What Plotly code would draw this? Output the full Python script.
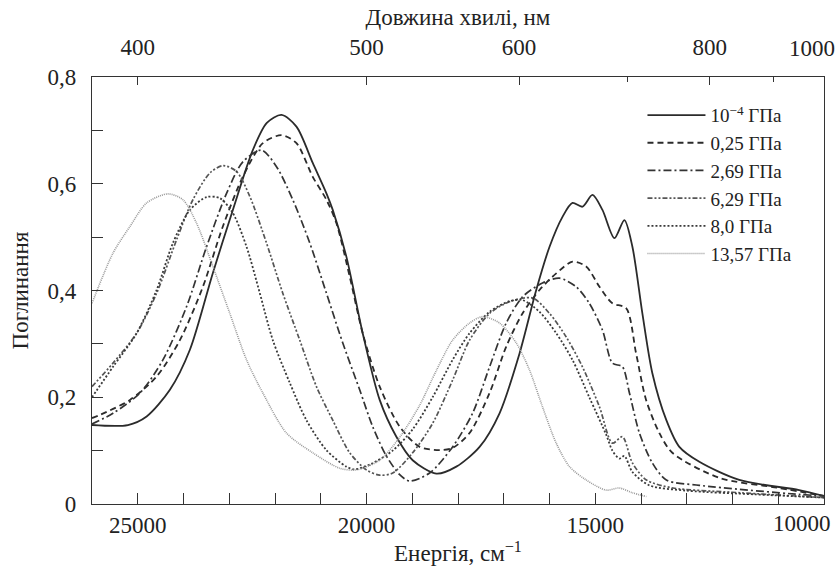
import plotly.graph_objects as go

# ---- data (wavenumber, cm^-1 ; absorbance) ----
names = ["10<sup>−4</sup> ГПа", "0,25 ГПа", "2,69 ГПа", "6,29 ГПа", "8,0 ГПа", "13,57 ГПа"]

x_p1 = [26000, 25214, 24806, 24297, 23860, 23358, 22921, 22485, 22179, 21858, 21531, 21175, 20876, 20738,
        20439, 20083, 19712, 19347, 18991, 18474, 18037, 17528, 17092, 16655, 16290, 15999, 15716, 15498,
        15280, 15061, 14843, 14581, 14363, 14188, 13970, 13752, 13446, 13162, 12725, 11852, 10542, 10000]
y_p1 = [0.148, 0.148, 0.164, 0.214, 0.289, 0.433, 0.551, 0.663, 0.714, 0.729, 0.707, 0.639, 0.582, 0.551,
        0.463, 0.320, 0.195, 0.126, 0.082, 0.057, 0.070, 0.107, 0.170, 0.282, 0.401, 0.482, 0.538, 0.564,
        0.557, 0.579, 0.551, 0.498, 0.532, 0.482, 0.357, 0.245, 0.157, 0.107, 0.079, 0.045, 0.026, 0.015]

x_p2 = [26000, 25825, 25170, 24587, 24079, 23576, 23140, 22703, 22266, 21858, 21531, 21175, 20876, 20657,
        20367, 20083, 19712, 19275, 18838, 18402, 18118, 17747, 17310, 16946, 16590, 16218, 15853, 15498,
        15199, 14908, 14625, 14325, 14107, 13889, 13599, 13315, 12288, 10979, 10000]
y_p2 = [0.161, 0.167, 0.195, 0.239, 0.307, 0.407, 0.520, 0.613, 0.676, 0.691, 0.676, 0.613, 0.570, 0.526,
        0.426, 0.320, 0.220, 0.145, 0.107, 0.101, 0.105, 0.133, 0.208, 0.295, 0.357, 0.401, 0.432, 0.454,
        0.445, 0.407, 0.376, 0.367, 0.282, 0.195, 0.133, 0.096, 0.049, 0.030, 0.015]

x_p3 = [26000, 25541, 24952, 24450, 23932, 23496, 23059, 22703, 22295, 21967, 21611, 21240, 20876, 20520,
        20149, 19865, 19566, 19275, 19057, 18620, 18118, 17681, 17310, 16946, 16590, 16153, 15782, 15417,
        15130, 14843, 14625, 14406, 14253, 14035, 13752, 13446, 12725, 10542, 10000]
y_p3 = [0.150, 0.170, 0.208, 0.270, 0.370, 0.482, 0.582, 0.641, 0.663, 0.632, 0.570, 0.489, 0.395, 0.302,
        0.214, 0.145, 0.090, 0.055, 0.043, 0.058, 0.107, 0.170, 0.257, 0.339, 0.388, 0.414, 0.423, 0.407,
        0.376, 0.326, 0.264, 0.257, 0.208, 0.133, 0.077, 0.045, 0.035, 0.018, 0.015]

x_p4 = [26000, 25541, 25024, 24587, 24151, 23795, 23424, 23140, 22841, 22550, 22186, 21830, 21459, 21094,
        20738, 20367, 20002, 19712, 19428, 18991, 18555, 18118, 17747, 17310, 16874, 16371, 15999, 15635,
        15280, 14908, 14625, 14406, 14188, 13882, 13300, 12000, 10000]
y_p4 = [0.220, 0.264, 0.320, 0.395, 0.495, 0.570, 0.620, 0.634, 0.623, 0.576, 0.489, 0.395, 0.307, 0.220,
        0.157, 0.096, 0.064, 0.054, 0.058, 0.096, 0.151, 0.232, 0.307, 0.357, 0.379, 0.386, 0.357, 0.313,
        0.257, 0.182, 0.114, 0.126, 0.077, 0.045, 0.030, 0.022, 0.012]

x_p5 = [26000, 25541, 25024, 24587, 24231, 23860, 23496, 23205, 22921, 22622, 22332, 22048, 21677, 21313,
        20876, 20439, 20258, 19900, 19428, 18991, 18555, 18118, 17747, 17310, 16874, 16590, 16218, 15853,
        15498, 15130, 14762, 14625, 14472, 14363, 14188, 13817, 13000, 11500, 10000]
y_p5 = [0.200, 0.257, 0.320, 0.401, 0.489, 0.551, 0.575, 0.573, 0.545, 0.482, 0.395, 0.307, 0.227, 0.157,
        0.101, 0.070, 0.065, 0.075, 0.100, 0.140, 0.200, 0.270, 0.320, 0.360, 0.380, 0.382, 0.360, 0.320,
        0.270, 0.200, 0.130, 0.100, 0.085, 0.090, 0.060, 0.035, 0.025, 0.018, 0.012]

x_p6 = [26000, 25541, 25170, 24806, 24341, 24013, 23714, 23358, 22987, 22622, 22266, 21749, 21175, 20585,
        20221, 19712, 19275, 18838, 18474, 18118, 17747, 17463, 17092, 16728, 16437, 16153, 15853, 15563,
        15199, 14762, 14472, 14188, 13882]
y_p6 = [0.376, 0.470, 0.520, 0.564, 0.581, 0.570, 0.526, 0.445, 0.357, 0.270, 0.208, 0.133, 0.096, 0.067,
        0.064, 0.082, 0.125, 0.185, 0.250, 0.307, 0.339, 0.351, 0.339, 0.302, 0.251, 0.182, 0.114, 0.070,
        0.045, 0.026, 0.030, 0.021, 0.014]

xs = [x_p1, x_p2, x_p3, x_p4, x_p5, x_p6]
ys = [y_p1, y_p2, y_p3, y_p4, y_p5, y_p6]

bottom_ticks = [25000, 20000, 15000, 10000]
bottom_text = ["25000", "20000", "15000", "10000"]
top_nm = [400, 500, 600, 800, 1000]
top_text = ["400", "500", "600", "800", "1000"]
top_minor_nm = [700, 900]
y_ticks = [0, 0.2, 0.4, 0.6, 0.8]
y_text = ["0", "0,2", "0,4", "0,6", "0,8"]
y_minor = [0.1, 0.3, 0.5, 0.7]

# ---- styles ----
colors = ["#2b2b2b", "#2b2b2b", "#333333", "#555555", "#3a3a3a", "#9a9a9a"]
dashes = ["solid", "6px,4px", "8px,3px,2px,3px", "5px,2px,2px,2px,2px,2px", "2px,2px", "1px,1px"]
widths = [1.8, 1.8, 1.7, 1.7, 1.8, 1.6]

FONT = "Liberation Serif, Times New Roman, serif"
TXT = "#222222"
AX = "#333333"
FS = 23

fig = go.Figure()
for i in range(6):
    fig.add_trace(go.Scatter(
        x=xs[i], y=ys[i], mode="lines", name=names[i],
        line=dict(color=colors[i], dash=dashes[i], width=widths[i], shape="spline", smoothing=0.8),
        hoverinfo="skip"))

# invisible trace bound to the top (wavelength) axis
fig.add_trace(go.Scatter(x=[26000, 10000], y=[None, None], xaxis="x2", yaxis="y",
                         mode="lines", showlegend=False, hoverinfo="skip"))

# the last labels of both x axes sit at the right frame; they are drawn shifted inward (as in the original)
fig.add_annotation(x=bottom_ticks[-1], xref="x", y=0, yref="paper", text=bottom_text[-1],
                   xanchor="right", yanchor="top", xshift=9, yshift=-5, showarrow=False,
                   font=dict(family=FONT, size=FS, color=TXT))
fig.add_annotation(x=1e7 / top_nm[-1], xref="x2", y=1, yref="paper", text=top_text[-1],
                   xanchor="right", yanchor="bottom", xshift=13, yshift=14, showarrow=False,
                   font=dict(family=FONT, size=FS, color=TXT))

fig.update_layout(
    width=840, height=575,
    margin=dict(l=92, r=16, t=77, b=71, autoexpand=False),
    paper_bgcolor="white", plot_bgcolor="white",
    font=dict(family=FONT, size=FS, color=TXT),
    showlegend=True,
    legend=dict(x=0.752, y=0.955, xanchor="left", yanchor="top",
                bgcolor="rgba(0,0,0,0)", borderwidth=0,
                font=dict(family=FONT, size=19, color=TXT),
                tracegroupgap=0, itemwidth=58),
    xaxis=dict(range=[26000, 10000], autorange=False, automargin=False,
               tickvals=bottom_ticks[:-1], ticktext=bottom_text[:-1],
               ticks="inside", ticklen=11, tickcolor=AX, tickwidth=1.2,
               minor=dict(dtick=1000, tick0=10000, ticks="inside", ticklen=11, tickcolor=AX, tickwidth=1.2),
               showline=True, linecolor=AX, linewidth=1.4, mirror=False,
               showgrid=False, zeroline=False,
               tickfont=dict(family=FONT, size=FS, color=TXT),
               title=dict(text="Енергія, см<sup>−1</sup>", font=dict(family=FONT, size=FS, color=TXT),
                          standoff=8)),
    xaxis2=dict(overlaying="x", side="top", anchor="y", automargin=False,
                range=[26000, 10000], autorange=False,
                tickvals=[1e7 / v for v in top_nm[:-1]], ticktext=top_text[:-1],
                ticks="inside", ticklen=8, tickcolor=AX, tickwidth=1.2,
                minor=dict(tickvals=[1e7 / v for v in top_minor_nm], ticks="inside", ticklen=5,
                           tickcolor=AX, tickwidth=1.2),
                showline=True, linecolor=AX, linewidth=1.4,
                showgrid=False, zeroline=False,
                ticklabelstandoff=12,
                tickfont=dict(family=FONT, size=FS, color=TXT),
                title=dict(text="Довжина хвилі, нм", font=dict(family=FONT, size=FS, color=TXT),
                           standoff=2)),
    yaxis=dict(range=[0, 0.8], autorange=False, automargin=False,
               tickvals=y_ticks, ticktext=y_text,
               ticks="inside", ticklen=11, tickcolor=AX, tickwidth=1.2,
               minor=dict(tickvals=y_minor, ticks="inside", ticklen=11, tickcolor=AX, tickwidth=1.2),
               showline=True, linecolor=AX, linewidth=1.4, mirror=True,
               showgrid=False, zeroline=False,
               ticklabelstandoff=10,
               tickfont=dict(family=FONT, size=FS, color=TXT),
               title=dict(text="Поглинання", font=dict(family=FONT, size=FS, color=TXT), standoff=12)),
)

fig.write_html("out.html")
